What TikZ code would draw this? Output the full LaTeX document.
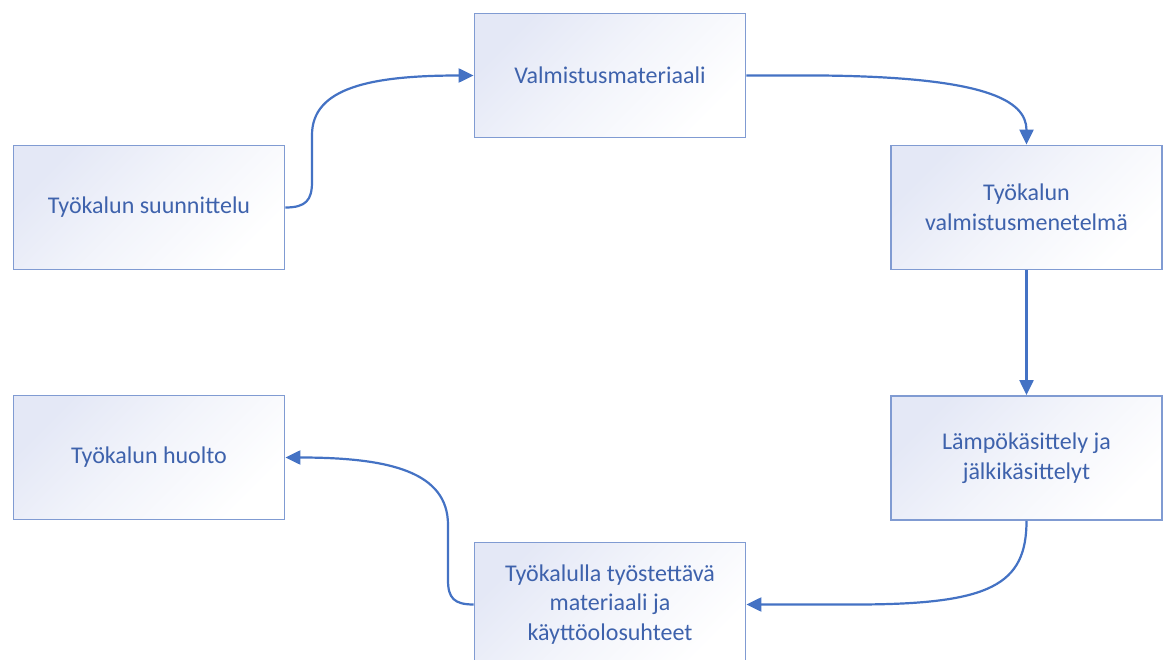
\documentclass[tikz,border=0pt]{standalone}
\usepackage{fontspec}
\setmainfont{Carlito}
\usetikzlibrary{arrows.meta}
\definecolor{boxline}{RGB}{128,155,210}
\definecolor{boxfill}{RGB}{228,232,246}
\definecolor{txt}{RGB}{62,98,172}
\definecolor{arr}{RGB}{68,114,196}
\tikzset{
  box/.style={draw=boxline, line width=1.8pt, minimum width=271pt, minimum height=124pt,
    inner sep=0pt, top color=boxfill, bottom color=white, middle color=boxfill!45!white,
    shading angle=45,
    text=txt, align=center, font=\fontsize{24}{29.5}\selectfont},
  conn/.style={draw=arr, line width=2.2pt, -{Triangle[length=15pt,width=14pt]}}
}
\begin{document}
\begin{tikzpicture}[x=1pt,y=-1pt]
\useasboundingbox (0,0) rectangle (1168,660);
\clip (0,0) rectangle (1168,660);
\fill[white] (0,0) rectangle (1168,660);
\node[box] (a) at (149,207.5) {Työkalun suunnittelu};
\node[box] (b) at (610,75.5) {Valmistusmateriaali};
\node[box] (c) at (1026.5,207.5) {Työkalun\\valmistusmenetelmä};
\node[box] (d) at (1026.5,458) {Lämpökäsittely ja\\jälkikäsittelyt};
\node[box] (e) at (610,604.5) {Työkalulla työstettävä\\materiaali ja\\käyttöolosuhteet};
\node[box] (f) at (149,457.5) {Työkalun huolto};
\draw[conn] (a.east) .. controls (306,207.5) and (312,200) .. (312,182) -- (312,135)
  .. controls (312,88) and (370,75.5) .. (b.west);
\draw[conn] (b.east) -- (820,75.5) .. controls (985,77) and (1026.5,100) .. (c.north);
\draw[conn] (c.south) -- (d.north);
\draw[conn] (d.south) .. controls (1026.5,585) and (990,604) .. (860,604.5) -- (e.east);
\draw[conn] (e.west) .. controls (454,604.5) and (448,598) .. (448,580) -- (448,525)
  .. controls (448,472) and (390,457.5) .. (f.east);
\end{tikzpicture}
\end{document}
